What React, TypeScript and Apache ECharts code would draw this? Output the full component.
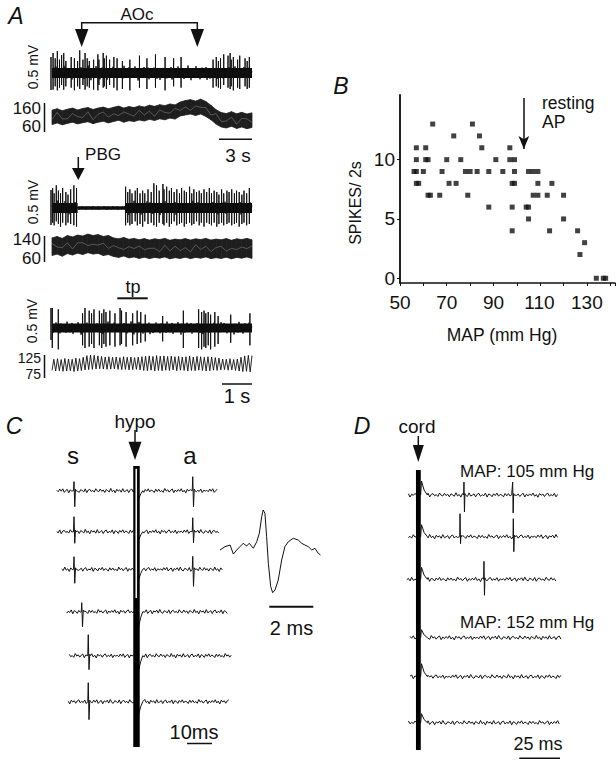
import React, { useEffect, useRef } from "react";
import * as echarts from "echarts";

type Pt = [number, number];

// ======================= DATA =======================
// Panel B — spikes per 2 s versus mean arterial pressure (mm Hg)
const panelB_MAP = [64, 81, 73, 84, 57, 61, 85, 97, 57, 61, 62, 70, 76, 91, 97, 99, 56, 57, 60, 68, 78, 80, 83, 88, 94, 99, 105, 107, 109, 57, 58, 71, 74, 98, 99, 109, 115, 62, 63, 67, 79, 107, 109, 113, 120, 88, 98, 104, 105, 105, 120, 98, 114, 126, 129, 127, 134, 137, 138];
const panelB_spikes = [13, 13, 12, 12, 11, 11, 11, 11, 10, 10, 10, 10, 10, 10, 10, 10, 9, 9, 9, 9, 9, 9, 9, 9, 9, 9, 9, 9, 9, 8, 8, 8, 8, 8, 8, 8, 8, 7, 7, 7, 7, 7, 7, 7, 7, 6, 6, 6, 6, 5, 5, 4, 4, 4, 3, 2, 0, 0, 0];
const panelB_restingMAP = 103;
const panelB_xLabels = [50, 70, 90, 110, 130];
const panelB_yTicks = [0, 5, 10];

// Panel A — nerve spikes: [time (s), upward peak (mV), downward peak (mV)]
const a1DurationS = 18.75;
const a1Spikes = [[0.1, .30, .25], [0.3, .22, .20], [0.5, .33, .26], [0.7, .20, .22], [0.9, .27, .18], [1.1, .30, .25], [1.3, .18, .20], [1.8, .24, .22], [2.1, .22, .26], [2.4, .18, .20], [2.6, .34, .24], [2.9, .20, .18], [3.1, .30, .25], [3.3, .22, .20], [3.5, .18, .22], [3.9, .20, .25], [4.3, .28, .26], [4.4, .20, .18], [4.8, .30, .22], [4.9, .22, .20], [5.1, .26, .24], [5.4, .20, .18], [5.8, .24, .22], [6.1, .22, .26], [6.6, .18, .24], [7.3, .20, .26], [8.2, .26, .22], [8.9, .22, .24], [9.7, .28, .22], [10.6, .24, .26], [11.4, .22, .20], [12.1, .24, .22], [15.1, .20, .22], [15.4, .24, .20], [15.6, .18, .22], [15.8, .22, .24], [16.1, .28, .18], [16.5, .26, .22], [16.7, .30, .24], [16.8, .20, .20], [17.0, .24, .26], [17.4, .20, .22], [17.6, .26, .24], [18.1, .22, .20], [18.3, .18, .24], [18.5, .24, .22]];
// arterial pressure envelope (mm Hg): systolic and diastolic
const a1SysBP = [130, 136, 128, 134, 139, 131, 137, 141, 133, 139, 143, 136, 142, 147, 139, 145, 141, 148, 143, 151, 146, 153, 149, 156, 152, 164, 170, 174, 168, 176, 166, 150, 132, 120, 116, 124, 115, 121, 114, 119];
const a1DiaBP = [70, 77, 69, 75, 80, 73, 78, 82, 74, 80, 84, 77, 83, 88, 80, 86, 83, 89, 85, 92, 87, 94, 90, 97, 93, 106, 110, 114, 108, 114, 104, 90, 72, 60, 56, 63, 54, 60, 53, 58];

const a2DurationS = 18.75;
const a2Spikes = [[0.06, .30, .22], [0.2, .22, .26], [0.4, .34, .20], [0.6, .26, .24], [0.8, .22, .28], [1.0, .30, .22], [1.3, .24, .26], [1.5, .20, .22], [1.75, .28, .24], [2.05, .34, .26], [2.3, .30, .28], [6.9, .32, .26], [7.1, .24, .22], [7.3, .28, .26], [7.5, .22, .24], [7.8, .26, .20], [8.0, .30, .26], [8.25, .22, .24], [8.5, .26, .28], [8.7, .22, .20], [9.0, .28, .24], [9.3, .24, .22], [9.55, .37, .26], [9.8, .34, .28], [10.05, .26, .22], [10.4, .36, .24], [10.5, .28, .26], [10.75, .32, .22], [11.0, .26, .28], [11.2, .30, .24], [11.45, .24, .20], [11.7, .28, .26], [11.95, .22, .24], [12.15, .30, .22], [12.4, .26, .28], [12.6, .24, .24], [12.9, .32, .22], [13.1, .22, .26], [13.3, .28, .24], [13.55, .24, .20], [13.8, .26, .26], [14.0, .22, .22], [14.25, .28, .28], [14.5, .24, .22], [14.75, .30, .24], [14.95, .22, .26], [15.2, .26, .22], [15.45, .24, .28], [15.65, .20, .24], [15.9, .28, .22], [16.1, .22, .26], [16.4, .26, .24], [16.6, .24, .22], [16.85, .28, .26], [17.1, .22, .24], [17.3, .26, .22], [17.55, .24, .28], [17.8, .20, .24], [18.0, .26, .22], [18.25, .22, .26], [18.5, .30, .24]];
const a2QuietWindow = [2.4, 6.85];
const a2SysBP = [140, 146, 138, 150, 144, 152, 148, 156, 150, 154, 146, 150, 140, 136, 142, 134, 138, 132, 137, 131, 136, 133, 138, 130, 135, 132, 137, 131, 136, 133, 138, 131, 135, 132, 137, 130, 136, 133, 138, 132];
const a2DiaBP = [66, 72, 63, 74, 68, 76, 70, 78, 72, 75, 66, 70, 62, 58, 64, 56, 60, 54, 59, 53, 58, 55, 60, 52, 57, 54, 59, 53, 58, 55, 60, 53, 57, 54, 59, 52, 58, 55, 60, 54];

const a3DurationS = 6.67;
const a3Spikes = [[0.01, .30, .30], [0.21, .28, .32], [1.02, .22, .26], [1.10, .30, .30], [1.24, .26, .28], [1.32, .22, .24], [1.40, .28, .30], [1.58, .26, .26], [1.66, .22, .30], [1.73, .28, .24], [1.80, .24, .28], [1.93, .26, .26], [2.10, .22, .28], [2.27, .30, .26], [2.32, .26, .24], [2.47, .24, .28], [2.69, .22, .26], [2.84, .26, .24], [2.96, .24, .22], [3.11, .20, .20], [3.69, .18, .20], [4.38, .26, .30], [4.89, .28, .30], [4.99, .24, .32], [5.07, .26, .28], [5.13, .22, .30], [5.21, .24, .26], [5.29, .20, .32], [5.43, .24, .28], [5.54, .18, .24], [5.96, .20, .22], [6.60, .22, .26]];
// beat-by-beat pressure (mm Hg)
const a3SysBP = [120, 122, 119, 123, 121, 120, 124, 122, 127, 133, 135, 134, 132, 130, 128, 129, 127, 128, 126, 129, 127, 128, 126, 128, 129, 131, 132, 130, 133, 131, 132, 130, 131, 129, 130, 128, 129, 131, 128, 130, 129, 127, 129, 128, 126, 124, 121, 120, 122, 119, 121, 127, 132, 134, 133];
const a3DiaBP = [80, 78, 79, 77, 78, 79, 76, 78, 80, 82, 83, 84, 85, 86, 85, 84, 85, 86, 84, 83, 84, 82, 83, 84, 82, 80, 79, 81, 78, 80, 79, 81, 80, 82, 79, 81, 80, 78, 80, 79, 81, 80, 78, 79, 81, 80, 82, 83, 81, 82, 80, 78, 76, 77, 75];

// recorded background noise (a.u.)
const noise = [
  0.5, -1.2, 1.8, -0.6, 2.1, -1.9, 0.3, 1.4, -2.3, 0.9,
  -0.4, 1.7, -1.5, 2.4, -0.8, -1.8, 1.1, 0.2, -1.3, 2.0,
  -2.2, 0.7, 1.5, -0.9, 0.4, -1.6, 2.2, -0.3, -1.1, 1.9,
  -0.7, 0.8, -2.0, 1.3, 0.1, -1.4, 2.5, -1.0, 0.6, -2.4,
  1.6, -0.5, 1.0, -1.7, 2.3, -1.2, -0.2, 1.2, -2.1, 0.9,
  1.8, -1.5, 0.4, -0.8, 2.0, -2.3, 1.1, 0.3, -1.9, 1.4,
  -0.6, 2.1, -1.3, 0.7, -0.1, -2.0, 1.7, -0.9, 1.5, -1.1,
  0.2, -1.8, 2.4, -0.4, 1.0, -1.6, 0.6, 1.9, -2.2, 0.8,
  -1.0, 1.3, -0.7, 2.2, -1.4, 0.5, -2.5, 1.6, -0.3, 1.1,
  -1.7, 0.9, 2.0, -1.2, 0.4, -0.9, 1.8, -2.1, 0.6, -0.5,
];

// Panel C — hypothalamic stimulation sweeps (ms, a.u.)
const hypoStimMs = 34.6;
const cStartMs = [2.7, 2.7, 4.7, 6.7, 7.7, 7.3];
const cEndMs = [66.9, 67.3, 69.1, 71.1, 72.4, 71.7];
const cSpikes = [
  [[9.6, 9, 16], [57.1, 14, 16]],
  [[9.6, 15, 11.6], [57.1, 14, 11]],
  [[9.6, 12.6, 14], [57.1, 13, 17]],
  [[12.7, 9, 15]],
  [[15.3, 21, 14]],
  [[15.3, 19, 18]],
];
const cAfterDip = [8, 8, 10, 14, 14, 12];
// averaged unit waveform (ms, a.u.)
const insetMs = [0, 0.23, 0.47, 0.62, 0.78, 0.93, 1.08, 1.24, 1.36, 1.55, 1.71, 1.83, 1.94, 2.01, 2.09, 2.17, 2.25, 2.36, 2.45, 2.56, 2.71, 2.87, 3.02, 3.18, 3.41, 3.64, 3.8, 3.95, 4.11, 4.27, 4.42, 4.57, 4.68];
const insetAmp = [0, 3.3, 5, -4, 0, 3.3, 6.7, 4, 6.7, 1.7, 8.3, 16.7, 33.3, 40, 36.7, 13.3, -13.3, -36.7, -42.7, -40, -30, -10, 3.3, 8.3, 11.7, 10, 6.7, 5, 3.3, 0, 1.7, -3.3, -5];

// Panel D — spinal cord stimulation sweeps (ms, a.u.)
const cordStimMs = 11.2;
const dStartMs = [5.1, 5.1, 4.1, 6.1, 6.1, 5.1];
const dEndMs = [96.5, 96.5, 95.5, 97.6, 97.6, 97.1];
const dSpikes = [
  [[39.0, 13, 17], [68.7, 13, 18]],
  [[36.6, 23, 7], [69.1, 18, 15]],
  [[51.2, 18, 16]],
  [],
  [],
  [],
];
const dAfterHump = [14, 12, 12, 8, 13, 9];

// ======================= LAYOUT =======================
const INK = "#111";
const FF = '"Liberation Sans", Arial, Helvetica, sans-serif';
const A_LEFT = 52, A_WIDTH = 200;
const C_LEFT = 50, C_WIDTH = 185, C_MAX = 74;
const D_LEFT = 400, D_WIDTH = 164, D_MAX = 100;
const cBaselines = [490.7, 531.7, 569.3, 611.7, 655.7, 701.7];
const dBaselines = [495, 536.7, 579.3, 637.7, 676.7, 722.7];
const cNoiseOffset = [0, 17, 34, 51, 68, 85];
const dNoiseOffset = [7, 23, 41, 59, 76, 92];
const B_YMIN = -0.4;

function noisyTrace(t0: number, t1: number, dt: number, off: number, scaleAt: (t: number) => number, inserts: Pt[], skips: number[][]): Pt[] {
  const pts: Pt[] = [];
  const n = Math.round((t1 - t0) / dt);
  for (let i = 0; i <= n; i++) {
    const t = t0 + i * dt;
    if (skips.some(([a, b]) => t > a && t < b)) continue;
    pts.push([t, noise[(off + i) % noise.length] * scaleAt(t)]);
  }
  pts.push(...inserts);
  pts.sort((p, q) => p[0] - q[0]);
  return pts;
}

const txt = (text: string, x: number, y: number, size: number, o: any = {}) => ({
  type: "text", x, y, rotation: o.rot || 0, silent: true, z: 100,
  style: {
    text, fontSize: size, fontFamily: FF, fontStyle: o.italic ? "italic" : "normal", fill: o.fill || INK,
    align: o.align || "center", verticalAlign: o.valign || "middle",
  },
});

function buildOption() {
  const grids: any[] = [];
  const xAxes: any[] = [];
  const yAxes: any[] = [];
  const series: any[] = [];

  const addHidden = (left: number, top: number, width: number, height: number, x0: number, x1: number, y0: number, y1: number) => {
    const i = grids.length;
    grids.push({ left, top, width, height, outerBoundsMode: "none" });
    xAxes.push({ gridIndex: i, type: "value", min: x0, max: x1, show: false });
    yAxes.push({ gridIndex: i, type: "value", min: y0, max: y1, show: false });
    return i;
  };
  const addLine = (gi: number, data: any[], width = 1, color = INK, extra: any = {}) => {
    series.push({
      type: "line", xAxisIndex: gi, yAxisIndex: gi, data, symbol: "none", showSymbol: false,
      silent: true, clip: false, lineStyle: { width, color, cap: "butt" }, ...extra,
    });
  };

  // ---------- Panel A ----------
  const spikeVerts = (sp: number[][]): Pt[] => sp.flatMap(([t, u, d]) => [[t, 0], [t, u], [t, -d], [t, 0]] as Pt[]);
  const spikeSkips = (sp: number[][], half: number) => sp.map(([t]) => [t - half, t + half]);

  const nerve = (top: number, dur: number, spikes: number[][], bands: number[][], scaleAt: (t: number) => number, off: number) => {
    const gi = addHidden(A_LEFT, top, A_WIDTH, 60, 0, dur, -0.45, 0.45);
    for (const [t0, t1, w] of bands) addLine(gi, [[t0, 0], [t1, 0]], w, "#0a0a0a");
    const dt = dur / 200;
    addLine(gi, noisyTrace(0, dur, dt, off, scaleAt, spikeVerts(spikes), spikeSkips(spikes, dt * 0.6)), 1);
  };
  const bpBand = (top: number, height: number, y0: number, y1: number, sys: number[], dia: number[], off: number) => {
    const gi = addHidden(A_LEFT, top, A_WIDTH, height, 0, sys.length - 1, y0, y1);
    series.push({
      type: "custom", xAxisIndex: gi, yAxisIndex: gi, silent: true, clip: false,
      encode: { x: 0, y: [1, 2] },
      data: sys.slice(0, -1).map((s, k) => [k, s, dia[k], sys[k + 1], dia[k + 1]]),
      renderItem: (_p: any, api: any) => {
        const k = api.value(0);
        const pts = [
          api.coord([k, api.value(1)]), api.coord([k + 1, api.value(3)]),
          api.coord([k + 1, api.value(4)]), api.coord([k, api.value(2)]),
        ];
        return { type: "polygon", shape: { points: pts }, style: { fill: "#1e1e1e", stroke: "#1e1e1e", lineWidth: 0.8 } };
      },
    });
    // grey texture of overlapping pulses inside the pressure band
    const gi2 = addHidden(A_LEFT, top, A_WIDTH, height, 0, sys.length - 1, y0, y1);
    addLine(gi2, sys.map((s, k) => [k, (s + dia[k]) / 2 + noise[(off + k) % noise.length] * 6]), 0.8, "#666");
  };

  nerve(43, a1DurationS, a1Spikes, [[0, a1DurationS, 10]], () => 0.045, 0);
  bpBand(91, 48, 10, 210, a1SysBP, a1DiaBP, 12);
  nerve(178, a2DurationS, a2Spikes, [[0, a2QuietWindow[0], 10], [a2QuietWindow[0], a2QuietWindow[1], 3.5], [a2QuietWindow[1], a2DurationS, 10]],
    (t) => (t > a2QuietWindow[0] && t < a2QuietWindow[1] ? 0.012 : 0.045), 31);
  bpBand(226, 40, 22, 190, a2SysBP, a2DiaBP, 44);
  nerve(298, a3DurationS, a3Spikes, [[0, a3DurationS, 9]], () => 0.04, 57);
  {
    const gi = addHidden(A_LEFT, 350, A_WIDTH, 30, 0, 2 * a3SysBP.length - 1, 46, 153);
    addLine(gi, a3SysBP.flatMap((s, i) => [[2 * i, a3DiaBP[i]], [2 * i + 1, s]]), 0.9);
  }

  // ---------- Panel B ----------
  const gB = grids.length;
  grids.push({ left: 400, top: 95, width: 215, height: 188, outerBoundsMode: "none" });
  xAxes.push({
    gridIndex: gB, type: "value", min: 50, max: 142, interval: 10,
    axisLine: { show: true, onZero: false, lineStyle: { color: INK, width: 1.5 } },
    axisTick: { show: true, length: 3, lineStyle: { color: INK } },
    axisLabel: { show: false },
    splitLine: { show: false },
  });
  yAxes.push({
    gridIndex: gB, type: "value", min: B_YMIN, max: 15.45,
    axisLine: { show: true, onZero: false, lineStyle: { color: "#222", width: 2 } },
    axisTick: { show: true, length: 3, customValues: panelB_yTicks, lineStyle: { color: INK } },
    axisLabel: { customValues: panelB_yTicks, fontSize: 19, color: INK, margin: 5, fontFamily: FF },
    splitLine: { show: false },
  });
  series.push({
    type: "scatter", xAxisIndex: gB, yAxisIndex: gB, symbol: "rect", symbolSize: 5,
    itemStyle: { color: INK }, silent: true,
    data: panelB_MAP.map((m, i) => [m, panelB_spikes[i]]),
    markLine: {
      silent: true, symbol: ["none", "arrow"], symbolSize: 12,
      lineStyle: { color: INK, width: 1.5, type: "solid" }, label: { show: false },
      data: [[{ coord: [panelB_restingMAP, 15.2], symbol: "none" }, { coord: [panelB_restingMAP, 10.9], symbol: "arrow", symbolSize: [8, 13] }]],
    },
  });

  // ---------- Panel C ----------
  cBaselines.forEach((b, k) => {
    const gi = addHidden(C_LEFT, b - 40, C_WIDTH, 80, 0, C_MAX, -40, 40);
    const ins: Pt[] = [];
    const skips: number[][] = [];
    for (const [t, u, d] of cSpikes[k]) {
      ins.push([t - 0.2, 0], [t, u], [t + 0.3, -d], [t + 0.6, 1.5], [t + 0.9, 0]);
      skips.push([t - 0.45, t + 1.15]);
    }
    const s = hypoStimMs, dip = cAfterDip[k];
    ins.push([s - 0.8, 0], [s + 0.9, -dip], [s + 1.7, -dip * 0.4], [s + 2.5, 0]);
    skips.push([s - 1.0, s + 2.7]);
    addLine(gi, noisyTrace(cStartMs[k], cEndMs[k], 0.6, cNoiseOffset[k], () => 0.9, ins, skips), 1);
  });
  {
    const gi = addHidden(C_LEFT, 466, C_WIDTH, 281, 0, C_MAX, 0, 1);
    addLine(gi, [[hypoStimMs, 0], [hypoStimMs, 1]], 6.5, "#000");
    addLine(gi, [[hypoStimMs - 0.1, 0.53], [hypoStimMs - 0.1, 0.99]], 1.6, "#f2f2f2");
  }
  {
    const gi = addHidden(220, 500, 101, 100, 0, 4.7, -50, 50);
    addLine(gi, insetMs.map((t, i) => [t, insetAmp[i]]), 1);
  }

  // ---------- Panel D ----------
  dBaselines.forEach((b, k) => {
    const gi = addHidden(D_LEFT, b - 40, D_WIDTH, 80, 0, D_MAX, -40, 40);
    const ins: Pt[] = [];
    const skips: number[][] = [];
    for (const [t, u, d] of dSpikes[k]) {
      ins.push([t - 0.2, 0], [t, u], [t + 0.3, -d], [t + 0.6, 1.5], [t + 0.9, 0]);
      skips.push([t - 0.6, t + 1.5]);
    }
    const s = cordStimMs, h = dAfterHump[k];
    ins.push([s - 1, 0], [s + 1.4, 0], [s + 1.9, h], [s + 3.5, h * 0.35], [s + 5.5, 0]);
    skips.push([s - 1.2, s + 5.7]);
    addLine(gi, noisyTrace(dStartMs[k], dEndMs[k], 1.0, dNoiseOffset[k], () => 0.9, ins, skips), 1);
  });
  {
    const gi = addHidden(D_LEFT, 470, D_WIDTH, 280, 0, D_MAX, 0, 1);
    addLine(gi, [[cordStimMs, 0], [cordStimMs, 1]], 4.8, "#000");
  }

  // ---------- annotations ----------
  const seg = (points: number[][], w = 1.5) => ({ type: "polyline", silent: true, z: 100, shape: { points }, style: { stroke: INK, lineWidth: w, fill: null } });
  const tri = (points: number[][]) => ({ type: "polygon", silent: true, z: 100, shape: { points }, style: { fill: INK } });
  const downArrow = (x: number, y0: number, yHead: number, tip: number, hw: number) => [seg([[x, y0], [x, yHead + 1]], 1.5), tri([[x - hw, yHead], [x + hw, yHead], [x, tip]])];

  const elements: any[] = [
    // panel letters
    txt("A", 16, 16, 23, { italic: true }),
    txt("B", 341, 86, 23, { italic: true }),
    txt("C", 14, 426, 23, { italic: true }),
    txt("D", 362, 426, 23, { italic: true }),
    // A annotations
    txt("AOc", 137, 14, 17),
    seg([[81.7, 30], [81.7, 22.7], [197.3, 22.7], [197.3, 30]], 1.5),
    tri([[75, 29], [88.4, 29], [81.7, 47]]),
    tri([[190.6, 29], [204, 29], [197.3, 47]]),
    txt("0.5 mV", 33, 67, 14, { rot: Math.PI / 2 }),
    txt("0.5 mV", 33, 202, 14, { rot: Math.PI / 2 }),
    txt("0.5 mV", 32, 321, 14, { rot: Math.PI / 2 }),
    seg([[51, 57], [51, 90]], 1.5),
    seg([[51, 190], [51, 225]], 1.5),
    seg([[51, 308], [51, 340]], 1.5),
    txt("160", 41, 108, 17, { align: "right" }),
    txt("60", 41, 126, 17, { align: "right" }),
    txt("140", 41, 239, 17, { align: "right" }),
    txt("60", 41, 258, 17, { align: "right" }),
    txt("125", 41, 357.5, 14, { align: "right" }),
    txt("75", 41, 374, 14, { align: "right" }),
    seg([[44.5, 103], [44.5, 132]], 1.5),
    seg([[44.5, 236], [44.5, 262]], 1.5),
    seg([[44.5, 355], [44.5, 378]], 1.5),
    seg([[219, 139.3], [252, 139.3]], 1.5),
    txt("3 s", 238, 155, 19),
    txt("PBG", 103, 154, 17),
    ...downArrow(78.3, 157, 168, 180, 6.3),
    txt("tp", 133, 287, 18),
    seg([[117.3, 298.3], [147.7, 298.3]], 2),
    seg([[222, 384], [252, 384]], 1.5),
    txt("1 s", 237, 396, 20),
    // B annotations
    txt("SPIKES/ 2s", 355, 203, 16, { rot: Math.PI / 2 }),
    txt("MAP (mm Hg)", 502, 335, 17.5),
    txt("resting", 542, 103, 17.5, { align: "left" }),
    txt("AP", 542, 122, 17.5, { align: "left" }),
    // C annotations
    txt("hypo", 135, 421, 19),
    ...downArrow(135, 430, 441.7, 460, 6.5),
    txt("s", 73, 455, 24),
    txt("a", 190, 455, 24),
    seg([[269.3, 606.7], [313.3, 606.7]], 2),
    txt("2 ms", 291.5, 628, 20),
    seg([[187, 743.5], [212, 743.5]], 1.5),
    txt("10ms", 194, 732, 20),
    // D annotations
    txt("cord", 417, 426, 19),
    ...downArrow(418.3, 436, 445, 462, 5.5),
    txt("MAP: 105 mm Hg", 460, 471, 17, { align: "left" }),
    txt("MAP: 152 mm Hg", 460, 622, 17, { align: "left" }),
    seg([[519.3, 758.3], [560, 758.3]], 1.5),
    txt("25 ms", 538, 744, 18),
  ];

  return {
    gB,
    elements,
    option: {
      animation: false,
      backgroundColor: "#fff",
      textStyle: { fontFamily: FF },
      grid: grids,
      xAxis: xAxes,
      yAxis: yAxes,
      series,
      graphic: { elements },
    },
  };
}

export default function App() {
  const ref = useRef<HTMLDivElement>(null);
  useEffect(() => {
    if (!ref.current) return;
    const chart = echarts.init(ref.current, undefined, { renderer: "svg", width: 616, height: 764 });
    const { option, gB, elements } = buildOption();
    chart.setOption(option as any);
    // x tick labels of panel B, placed through the panel's x scale (left-anchored by half width)
    const tickLabels = panelB_xLabels.map((v) => {
      const p = chart.convertToPixel({ xAxisIndex: gB, yAxisIndex: gB } as any, [v, B_YMIN]) as number[];
      const w = String(v).length * 10.6;
      return txt(String(v), p[0] - w / 2, p[1] + 10, 19, { valign: "top", align: "left" });
    });
    chart.setOption({ graphic: { elements: [...elements, ...tickLabels] } } as any);
    return () => chart.dispose();
  }, []);
  return <div ref={ref} style={{ position: "fixed", left: 0, top: 0, width: 616, height: 764, background: "#fff" }} />;
}
